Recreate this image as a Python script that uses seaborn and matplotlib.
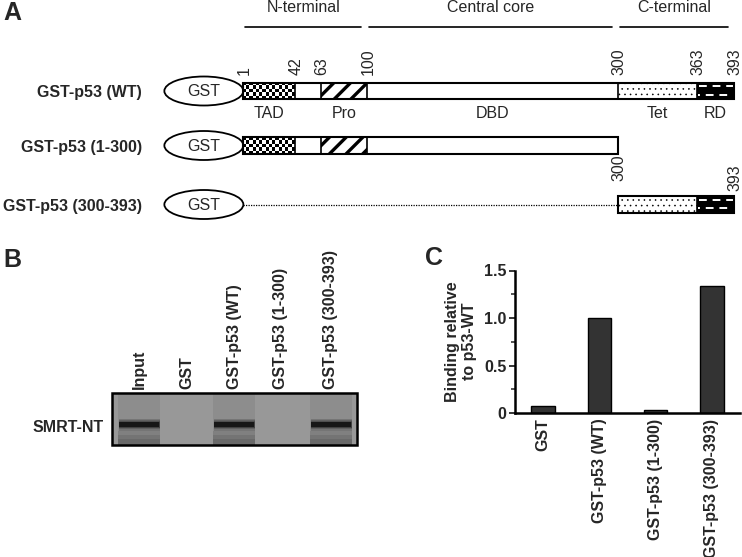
import numpy as np
import matplotlib.pyplot as plt
import matplotlib.patches as mpatches
import seaborn as sns

# -----------------------------------------
#  Data
# -----------------------------------------

REGION_NAMES = ["N-terminal", "Central core", "C-terminal"]
REGION_START = [1, 100, 300]
REGION_END = [100, 300, 393]

DOMAIN_NAMES = ["TAD", "", "Pro", "DBD", "Tet", "RD"]
DOMAIN_START = [1, 42, 63, 100, 300, 363]
DOMAIN_END = [42, 63, 100, 300, 363, 393]
DOMAIN_FILL = ["checker", "plain", "stripe", "plain", "dots", "dash"]

CONSTRUCTS = ["GST-p53 (WT)", "GST-p53 (1-300)", "GST-p53 (300-393)"]
CONSTRUCT_START = [1, 1, 300]
CONSTRUCT_END = [393, 300, 393]
WT_MARKS = [1, 42, 63, 100, 300, 363, 393]

LANES = ["Input", "GST", "GST-p53 (WT)", "GST-p53 (1-300)", "GST-p53 (300-393)"]
BAND_SIGNAL = [1.0, 0.0, 1.0, 0.0, 1.0]

C_LABELS = ["GST", "GST-p53 (WT)", "GST-p53 (1-300)", "GST-p53 (300-393)"]
C_VALUES = [0.07, 1.0, 0.03, 1.34]

# -----------------------------------------
#  Layout (pixels)
# -----------------------------------------

W, H = 742, 557
X0, K = 242.1, 1.2521          # residue -> pixel
ROW_Y = [91, 145.5, 204.5]
BAR_H = 16.5
ELL_W, ELL_H = 79, 29
LANE_X = [139, 187, 234, 280, 331]
LANE_W = 42
BLOT = (112, 393, 357, 445)
BAND_Y = 424.5
FS = 11.5


def rx(res):
    return X0 + K * res


sns.set_style("white")
plt.rcParams["font.family"] = ["Liberation Sans", "DejaVu Sans"]
plt.rcParams["hatch.color"] = "black"

fig = plt.figure(figsize=(W / 100, H / 100), dpi=100)
ax = fig.add_axes([0, 0, 1, 1])
ax.set_xlim(0, W)
ax.set_ylim(H, 0)
ax.axis("off")

# -----------------------------------------
#  Panel A
# -----------------------------------------

ax.text(3, 13, "A", fontsize=18, fontweight="bold", ha="left", va="center")
ax.text(3, 260, "B", fontsize=18, fontweight="bold", ha="left", va="center")
ax.text(434, 258, "C", fontsize=18, fontweight="bold", ha="center", va="center")

for name, s, e in zip(REGION_NAMES, REGION_START, REGION_END):
    x1, x2 = rx(s) + 2, rx(e) - 6
    ax.plot([x1, x2], [27, 27], color="black", lw=1.2)
    ax.text((x1 + x2) / 2, 8, name, fontsize=FS, ha="center", va="center")


def draw_domain(kind, x1, x2, yc):
    y1, y2 = yc - BAR_H / 2, yc + BAR_H / 2
    if kind == "checker":
        nx = max(1, int(round((x2 - x1) / 3.3)))
        ny = 5
        ii, jj = np.indices((ny, nx))
        ax.imshow((ii + jj) % 2, cmap="gray", interpolation="nearest",
                  extent=[x1, x2, y2, y1], aspect="auto", zorder=2)
    elif kind == "stripe":
        with plt.rc_context({"hatch.linewidth": 2.4}):
            ax.add_patch(mpatches.Rectangle((x1, y1), x2 - x1, BAR_H, fc="white",
                                            ec="black", hatch="//", lw=0, zorder=2))
    elif kind == "dots":
        with plt.rc_context({"hatch.linewidth": 0.4}):
            ax.add_patch(mpatches.Rectangle((x1, y1), x2 - x1, BAR_H, fc="white",
                                            ec="black", hatch="...", lw=0, zorder=2))
    elif kind == "dash":
        ax.add_patch(mpatches.Rectangle((x1, y1), x2 - x1, BAR_H, fc="black",
                                        ec="black", lw=0, zorder=2))
        ax.plot([x1 + 2, x2 - 1], [y1 + 3.5, y1 + 3.5], color="white", lw=1.4,
                ls=(0, (4, 3)), zorder=3)
        ax.plot([x1 + 1, x2 - 1], [y2 - 4.5, y2 - 4.5], color="white", lw=1.4,
                ls=(3, (4, 3)), zorder=3)
    else:
        ax.add_patch(mpatches.Rectangle((x1, y1), x2 - x1, BAR_H, fc="white",
                                        ec="none", zorder=2))
    ax.plot([x1, x1], [y1, y2], color="black", lw=1.2, zorder=4)


for i, (name, cs, ce) in enumerate(zip(CONSTRUCTS, CONSTRUCT_START, CONSTRUCT_END)):
    yc = ROW_Y[i]
    ax.text(142, yc + 2, name, fontsize=FS, fontweight="bold", ha="right", va="center")
    ex = rx(1) - ELL_W / 2
    ax.add_patch(mpatches.Ellipse((ex, yc), ELL_W, ELL_H, fc="white", ec="black",
                                  lw=1.3, zorder=3))
    ax.text(ex, yc + 1, "GST", fontsize=FS, ha="center", va="center", zorder=4)
    if cs > 1:
        ax.plot([rx(1), rx(cs)], [yc, yc], color="black", lw=0.9, ls=(0, (1, 1)))
    for dn, ds, de, kind in zip(DOMAIN_NAMES, DOMAIN_START, DOMAIN_END, DOMAIN_FILL):
        if ds >= cs and de <= ce:
            draw_domain(kind, rx(ds), rx(de), yc)
    ax.add_patch(mpatches.Rectangle((rx(cs), yc - BAR_H / 2), rx(ce) - rx(cs), BAR_H,
                                    fc="none", ec="black", lw=1.5, zorder=5))

# domain names under WT
for dn, ds, de in zip(DOMAIN_NAMES, DOMAIN_START, DOMAIN_END):
    if dn:
        ax.text((rx(ds) + rx(de)) / 2, 113, dn, fontsize=FS, ha="center", va="center")

# residue numbers
for m in WT_MARKS:
    ax.text(rx(m) + 1, 75, str(m), fontsize=FS, rotation=90, ha="center", va="bottom")
for m, yb in zip([CONSTRUCT_START[2], CONSTRUCT_END[2]], [181, 191]):
    ax.text(rx(m) + 1, yb, str(m), fontsize=FS, rotation=90, ha="center", va="bottom")

# -----------------------------------------
#  Panel B (blot)
# -----------------------------------------

bx1, by1, bx2, by2 = BLOT
ax.add_patch(mpatches.Rectangle((bx1, by1), bx2 - bx1, by2 - by1, fc="#989898",
                                ec="none", zorder=1))
for lane, lx, sig in zip(LANES, LANE_X, BAND_SIGNAL):
    ax.text(lx, 389, lane, fontsize=FS, fontweight="bold", rotation=90,
            ha="center", va="bottom")
    if sig > 0:
        l1 = lx - LANE_W / 2
        # lane tint
        ax.add_patch(mpatches.Rectangle((l1, by1), LANE_W, by2 - by1, fc="black",
                                        alpha=0.07 * sig, ec="none", zorder=2))
        # soft band: stacked thin layers
        for half in [6, 4.8, 3.8, 3.0]:
            ax.add_patch(mpatches.Rectangle((l1 + 0.5, BAND_Y - half), LANE_W - 1,
                                            2 * half, fc="black", alpha=0.17 * sig,
                                            ec="none", zorder=2))
        ax.add_patch(mpatches.Rectangle((l1 + 1, BAND_Y - 2.2), LANE_W - 2, 4.4,
                                        fc="#0d0d0d", alpha=0.8 * sig, ec="none",
                                        zorder=2))
        # faint lower smear
        for top in [431, 435, 439]:
            ax.add_patch(mpatches.Rectangle((l1, top), LANE_W, by2 - top, fc="black",
                                            alpha=0.09 * sig, ec="none", zorder=2))
ax.add_patch(mpatches.Rectangle((bx1, by1), bx2 - bx1, by2 - by1, fc="none",
                                ec="black", lw=1.8, zorder=3))
ax.text(104, 427, "SMRT-NT", fontsize=FS, fontweight="bold", ha="right", va="center")

# -----------------------------------------
#  Panel C (bar chart)
# -----------------------------------------

axc = fig.add_axes([515 / W, (H - 413) / H, 225 / W, 142.5 / H])
sns.barplot(x=C_LABELS, y=C_VALUES, ax=axc, color="#333333", saturation=1,
            edgecolor="black", linewidth=1.0, width=0.42)
axc.set_xlim(-0.5, 3.5)
axc.set_ylim(0, 1.5)
axc.set_facecolor("none")
axc.set_yticks([0, 0.5, 1.0, 1.5])
axc.set_yticklabels(["0", "0.5", "1.0", "1.5"], fontweight="bold", fontsize=FS)
axc.set_yticks([0.25, 0.75, 1.25], minor=True)
axc.set_xticks(range(len(C_LABELS)))
axc.set_xticklabels(C_LABELS, rotation=90, fontweight="bold", fontsize=FS)
axc.tick_params(axis="y", which="major", length=4, width=1.3, direction="out",
                pad=2, left=True)
axc.tick_params(axis="y", which="minor", length=3, width=1.1, direction="out", left=True)
axc.tick_params(axis="x", length=0, pad=4)
axc.set_ylabel("Binding relative\nto p53-WT", fontsize=FS, fontweight="bold",
               linespacing=1.15, labelpad=5)
sns.despine(ax=axc)
for s in ["left", "bottom"]:
    axc.spines[s].set_linewidth(1.8)
    axc.spines[s].set_color("black")

fig.savefig("out.png", dpi=100)
